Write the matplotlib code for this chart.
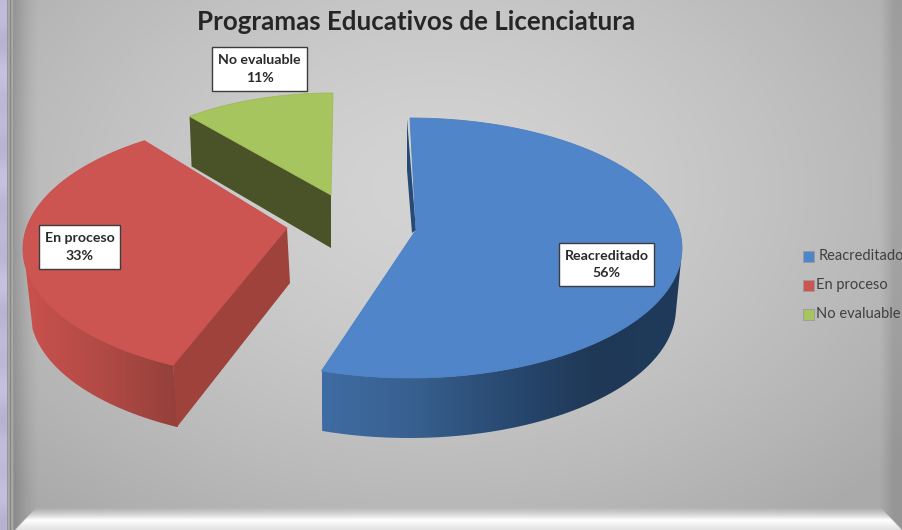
import numpy as np
import matplotlib
matplotlib.use("Agg")
import matplotlib.pyplot as plt
from matplotlib.patches import Polygon, Rectangle
from matplotlib.colors import LinearSegmentedColormap as LSC

plt.rcParams['font.family'] = ['Lato', 'DejaVu Sans']

title = "Programas Educativos de Licenciatura"
categories = ["Reacreditado", "En proceso", "No evaluable"]
shares = [56, 33, 11]

W, H = 903, 530
fig = plt.figure(figsize=(W / 100, H / 100), dpi=100)
ax = fig.add_axes([0, 0, 1, 1])
ax.set_xlim(0, W)
ax.set_ylim(H, 0)
ax.axis('off')

# ---- background
X, Y = np.meshgrid(np.arange(W) + .5, np.arange(H) + .5)
r = np.sqrt(((X - 440) / 600) ** 2 + ((Y - 190) / 420) ** 2)
bg = 212 - 42 * np.clip(r, 0, 1) ** 1.4
bg -= 32 * np.clip((40 - X) / 26, 0, 1) ** 1.5
bg -= 20 * np.clip((X - 880) / 14, 0, 1)
# bottom band: soft lift to white, then slightly grey at the very edge
band = np.clip((Y - 507) / 13, 0, 1) ** 1.3
band_val = 255 - 30 * np.clip((Y - 520) / 10, 0, 1)
inside = np.clip(((Y - 510) - (33 - X) * 1.05) / 2, 0, 1) * np.clip(((Y - 510) - (X - 884) * 1.05) / 2, 0, 1)
botm = band * inside
bg = bg * (1 - botm) + band_val * botm
rgb = np.dstack([bg, bg, bg])
# left frame strips
noise = 8 * np.sin(Y / 37) * np.sin(Y / 11 + 1)
left = X < 7
rgb[left] = np.column_stack([(190 + noise)[left], (187 + noise)[left], (214 + noise)[left]])
frame = (X >= 7) & (X < 14)
fv = 135 + 35 * np.abs(np.sin((X - 7) * np.pi / 3.5))
rgb[frame] = np.repeat(fv[frame][:, None], 3, axis=1)
ax.imshow(rgb.astype(np.uint8), extent=[0, W, H, 0], aspect='auto', zorder=0,
          interpolation='bilinear')
ax.set_xlim(0, W)
ax.set_ylim(H, 0)


def arc(cx, cy, rx, ry, a0, a1, n=120):
    t = np.radians(np.linspace(a0, a1, n))
    return np.column_stack([cx + rx * np.sin(t), cy - ry * np.cos(t)])


def gradient_fill(poly, stops, z):
    xs = poly[:, 0]
    x0, x1 = xs.min(), xs.max()
    cmap = LSC.from_list("g", stops)
    im = ax.imshow(np.linspace(0, 1, 256)[None, :], cmap=cmap, aspect='auto', zorder=z,
                   extent=[x0, x1, poly[:, 1].max(), poly[:, 1].min()])
    im.set_clip_path(Polygon(poly, closed=True, transform=ax.transData))
    ax.set_xlim(0, W)
    ax.set_ylim(H, 0)


bounds = np.concatenate([[0], np.cumsum(shares)]) * 3.6

# ---- slice 0: Reacreditado
a0, a1 = bounds[0], bounds[1]
rim = arc(410, 248, 272, 130, 0, a1 * .987)
apex = (416, 230)
side = np.vstack([arc(410, 248, 272, 130, 92, a1 * .987),
                  arc(409, 248 + 60, 267, 130, a1 * .987, 92)])
gradient_fill(side, ["#3f6ca3", "#38608f", "#294a72", "#1f3856", "#1f3a5c"], 2)
ax.add_patch(Polygon([(407, 119), (407, 170), (412, 233), apex], color="#244a75", lw=0, zorder=2))
ax.add_patch(Polygon(np.vstack([[apex], rim]), facecolor="#5085C9", edgecolor="#4b80c2", lw=.6, zorder=3))

# ---- slice 1: En proceso
a0, a1 = bounds[1], bounds[2]
rim = arc(295, 249, 272, 130, a0 + 5, a1 + 6)
apex = np.array([287, 228])
front = np.array([173, 365])
side = np.vstack([arc(295, 249, 272, 130, 262, a0 + 5),
                  arc(298, 249 + 62, 268, 130, a0 + 5, 262)])
gradient_fill(side, ["#c9514d", "#b24a45", "#93403a"], 2)
ax.add_patch(Polygon([apex, apex + (3, 55), front + (4, 62), front], color="#9E423B", lw=0, zorder=2))
ax.add_patch(Polygon(np.vstack([[apex], rim]), facecolor="#CC5552", edgecolor="#C85150", lw=.6, zorder=3))

# ---- slice 2: No evaluable
a0, a1 = bounds[2], bounds[3]
apex = np.array([331, 195])
rim = arc(333, 195, 225, 102, a0, a1)
ax.add_patch(Polygon([rim[0], rim[0] + (2, 50), apex + (0, 53), apex], color="#4A5327", lw=0, zorder=2))
ax.add_patch(Polygon(np.vstack([[apex], rim]), facecolor="#A6C55F", edgecolor="#9dbb58", lw=.6, zorder=3))

# ---- title
ax.text(416, 22, title, ha='center', va='center', fontsize=18.65, fontweight='bold', color="#262626", zorder=6)

# ---- data labels
boxes = [(559, 243, 95, 43), (39, 225, 81, 44), (212, 47, 95, 44)]
for name, share, (bx, by, bw, bh) in zip(categories, shares, boxes):
    ax.add_patch(Rectangle((bx, by), bw, bh, facecolor="white", edgecolor="#3c3c3c", lw=1, zorder=5))
    ax.text(bx + bw / 2, by + bh / 2, f"{name}\n{share}%", ha='center', va='center', fontsize=10.2,
            fontweight='bold', color="#2a2a2a", linespacing=1.5, zorder=6)

# ---- legend
colors = ["#5085C9", "#CC5552", "#A6C55F"]
legend_y = [257, 286, 315]
legend_x = [819, 816, 816]
for name, c, y, lx in zip(categories, colors, legend_y, legend_x):
    ax.add_patch(Rectangle((803.5, y - 6), 11, 11, facecolor=c, edgecolor="#9a9a9a", lw=.6, zorder=5))
    ax.text(lx, y - .5, name, ha='left', va='center', fontsize=10.5, color="#404040", zorder=6)

fig.savefig("out.png", dpi=100)
